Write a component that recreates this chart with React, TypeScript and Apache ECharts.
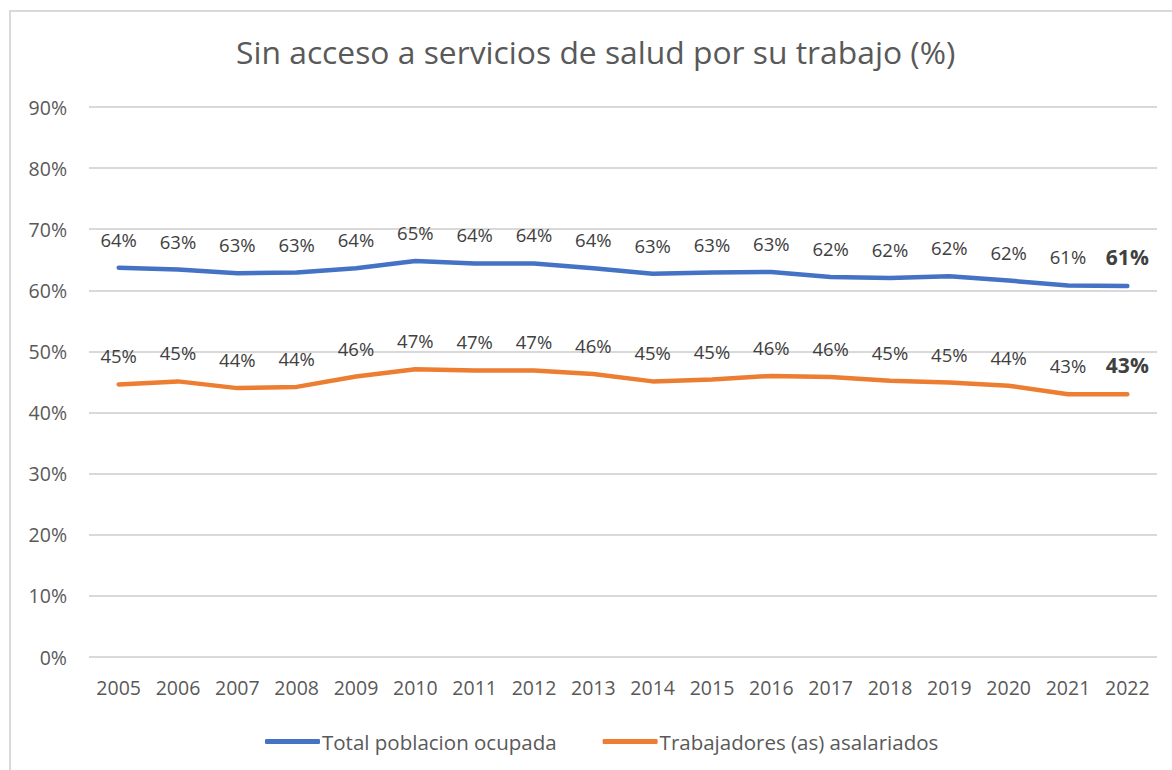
import React, { useEffect, useRef } from "react";
import * as echarts from "echarts";

const years = ["2005","2006","2007","2008","2009","2010","2011","2012","2013","2014","2015","2016","2017","2018","2019","2020","2021","2022"];
const totalOcupada = [63.7, 63.4, 62.8, 62.9, 63.6, 64.8, 64.4, 64.4, 63.6, 62.7, 62.9, 63.0, 62.2, 62.0, 62.3, 61.6, 60.8, 60.7];
const asalariados = [44.6, 45.1, 44.0, 44.2, 45.9, 47.1, 46.9, 46.9, 46.3, 45.1, 45.4, 46.0, 45.8, 45.2, 44.9, 44.4, 43.0, 43.0];
const yTicks = { min: 0, max: 90, interval: 10 };
const titleText = "Sin acceso a servicios de salud por su trabajo (%)";
const seriesNames = ["Total poblacion ocupada", "Trabajadores (as) asalariados"];

const FONT = "Open Sans";

function buildData(values: number[]) {
  return values.map((v, i) =>
    i === values.length - 1
      ? { value: v, label: { fontWeight: "bold", fontSize: 21, color: "#404040" } }
      : v
  );
}

export default function App() {
  const ref = useRef<HTMLDivElement>(null);
  useEffect(() => {
    document.body.style.margin = "0";
    const chart = echarts.init(ref.current!, null, { renderer: "svg" });
    const labelCfg = {
      show: true,
      position: "top",
      distance: 19,
      fontFamily: FONT,
      fontSize: 18.5,
      color: "#404040",
      formatter: (p: any) => Math.round(p.value) + "%",
    };
    chart.setOption({
      animation: false,
      backgroundColor: "#ffffff",
      textStyle: { fontFamily: FONT },
      title: {
        text: titleText,
        left: 231,
        top: 30,
        textStyle: { fontFamily: FONT, fontSize: 31.8, fontWeight: "normal", color: "#595959" },
      },
      graphic: [
        { type: "line", shape: { x1: 9, y1: 11, x2: 1172, y2: 11 }, style: { stroke: "#d9d9d9", lineWidth: 2 } },
        { type: "line", shape: { x1: 10, y1: 10, x2: 10, y2: 770 }, style: { stroke: "#d9d9d9", lineWidth: 2 } },
      ],
      legend: {
        data: seriesNames,
        top: 726,
        left: 260,
        icon: "roundRect",
        itemWidth: 55,
        itemHeight: 5,
        itemGap: 46,
        textStyle: { fontFamily: FONT, fontSize: 20.5, color: "#595959", padding: [0, 0, 0, -3] },
      },
      grid: { left: 89, right: 15, top: 107, bottom: 113, containLabel: false },
      xAxis: {
        type: "category",
        data: years,
        boundaryGap: true,
        axisLine: { show: false },
        axisTick: { show: false },
        axisLabel: { fontFamily: FONT, fontSize: 19.5, color: "#595959", margin: 20 },
      },
      yAxis: {
        type: "value",
        min: yTicks.min,
        max: yTicks.max,
        interval: yTicks.interval,
        axisLine: { show: false },
        axisTick: { show: false },
        splitLine: { lineStyle: { color: "#d9d9d9", width: 2 } },
        axisLabel: { fontFamily: FONT, fontSize: 19.5, color: "#595959", margin: 22, formatter: "{value}%" },
      },
      series: [
        {
          name: seriesNames[0],
          type: "line",
          data: buildData(totalOcupada),
          symbol: "circle",
          symbolSize: 0,
          showSymbol: true,
          lineStyle: { color: "#4472C4", width: 4.5, cap: "round", join: "round" },
          itemStyle: { color: "#4472C4" },
          label: labelCfg,
          labelLayout: { hideOverlap: false },
        },
        {
          name: seriesNames[1],
          type: "line",
          data: buildData(asalariados),
          symbol: "circle",
          symbolSize: 0,
          showSymbol: true,
          lineStyle: { color: "#ED7D31", width: 4.5, cap: "round", join: "round" },
          itemStyle: { color: "#ED7D31" },
          label: labelCfg,
          labelLayout: { hideOverlap: false },
        },
      ],
    });
    return () => chart.dispose();
  }, []);
  return <div ref={ref} style={{ position: "absolute", left: 0, top: 0, width: 1172, height: 770 }} />;
}
